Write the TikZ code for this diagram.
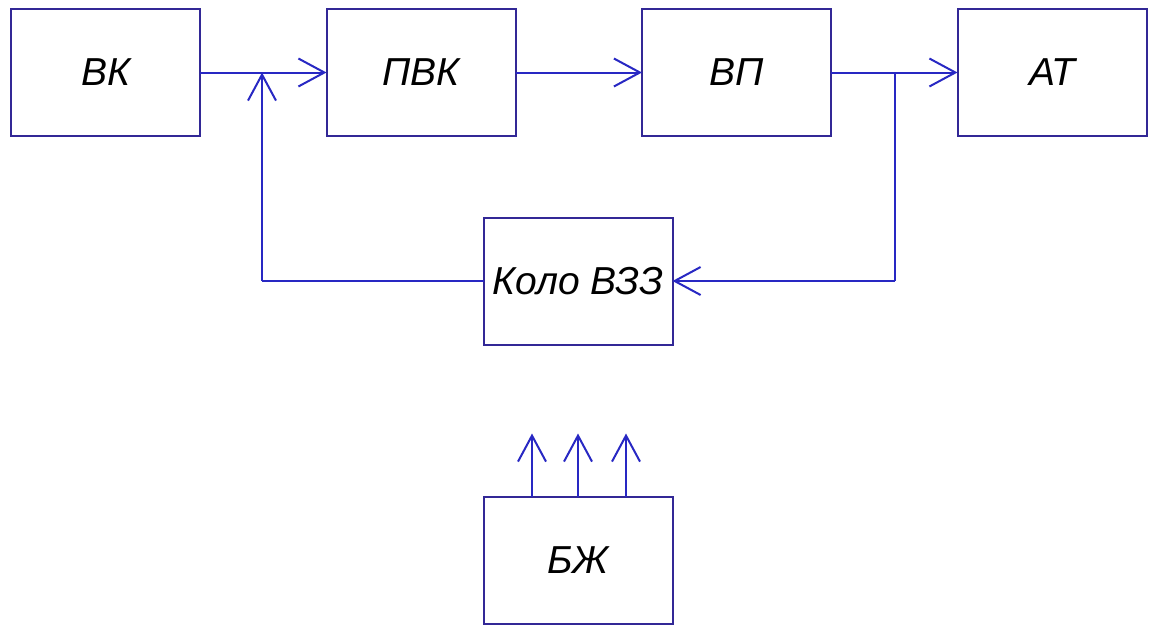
\documentclass[tikz,border=0pt]{standalone}
\usepackage{fontspec}
\setmainfont{Liberation Sans}
\usetikzlibrary{positioning,arrows.meta}
\definecolor{boxcol}{RGB}{50,40,150}
\definecolor{linecol}{RGB}{40,40,195}

\begin{document}
\begin{tikzpicture}[x=1pt,y=-1pt,
    blok/.style={draw=boxcol, line width=2pt, minimum width=189pt, minimum height=127pt,
        inner sep=0pt, outer sep=0pt, font=\fontsize{39}{42}\selectfont\itshape},
    sig/.style={draw=linecol, line width=2pt, -{Straight Barb[length=26pt,width=28pt,line width=2pt]}},
    wire/.style={draw=linecol, line width=2pt}]
    \useasboundingbox (0,0) rectangle (1154,624);
    \node[blok] (VK) at (105.5,72.5) {ВК};
    \node[blok, right=126.5pt of VK] (PVK) {ПВК};
    \node[blok, right=126.5pt of PVK] (VP) {ВП};
    \node[blok, right=126.5pt of VP] (AT) {АТ};
    \node[blok] (KVZZ) at (578,281) {Коло ВЗЗ};
    \node[blok] (BZh) at (578,560) {БЖ};

    \coordinate (J1) at (262,72.5); \coordinate (J2) at (895,72.5);
    \coordinate (F1) at (262,281); \coordinate (F2) at (895,281);

    \draw[sig] (VK) -- (PVK);
    \draw[sig] (PVK) -- (VP);
    \draw[sig] (VP) -- (AT);
    \draw[wire] (J2) -- (F2);
    \draw[sig] (F2) -- (KVZZ);
    \draw[wire] (KVZZ) -- (F1);
    \draw[sig] (F1) -- (J1);

    % outputs of the power unit
    \foreach \dx in {-46,0,48} {
        \coordinate (T) at ([xshift=\dx pt]BZh.north);
        \draw[sig] (T) -- ++(0,-63);
    }
\end{tikzpicture}
\end{document}
